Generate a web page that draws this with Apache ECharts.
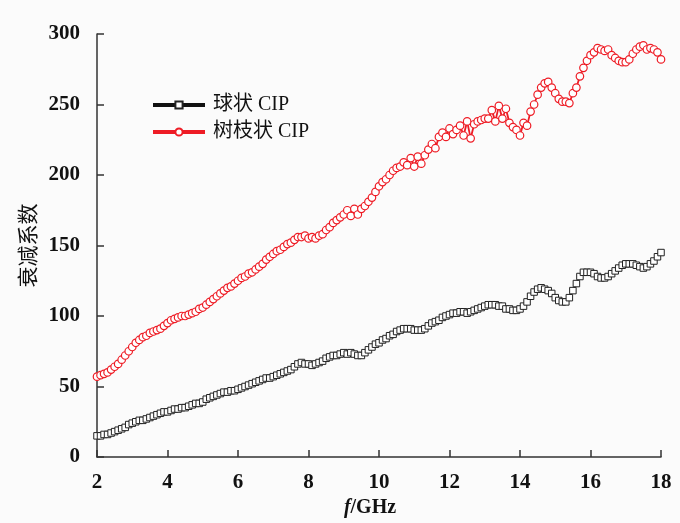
<!DOCTYPE html>
<html>
<head>
<meta charset="utf-8">
<script src="https://cdn.jsdelivr.net/npm/echarts@6/dist/echarts.min.js"></script>
<style>
  html, body { margin: 0; padding: 0; background: #fbfbfb; }
  #chart { width: 680px; height: 523px; }
</style>
</head>
<body>
<div id="chart"></div>
<script>
// 频率采样: 2 ~ 18 GHz, 步长 0.1
const freqStart = 2
const freqStep = 0.1

const xTicks = [2, 4, 6, 8, 10, 12, 14, 16, 18]
const yTicks = [0, 50, 100, 150, 200, 250, 300]

const seriesNames = ['球状 CIP', '树枝状 CIP']

// 球状 CIP 衰减系数
const sphereValues = [
  15, 15, 16, 16, 17, 18, 19, 20, 21, 23,
  24, 25, 26, 26, 27, 28, 29, 30, 31, 32,
  32, 33, 34, 34, 35, 35, 36, 37, 38, 38,
  39, 41, 42, 43, 44, 45, 46, 46, 47, 47,
  48, 49, 50, 51, 52, 53, 54, 55, 56, 56,
  57, 58, 59, 60, 61, 62, 64, 66, 67, 66,
  66, 65, 66, 67, 68, 70, 71, 72, 72, 73,
  74, 73, 74, 73, 72, 72, 74, 76, 78, 80,
  81, 83, 84, 86, 87, 89, 90, 91, 91, 91,
  90, 90, 90, 91, 93, 95, 96, 97, 99, 100,
  101, 102, 102, 103, 103, 102, 103, 104, 105, 106,
  107, 108, 108, 108, 107, 107, 105, 105, 104, 104,
  105, 107, 110, 114, 117, 119, 120, 119, 118, 116,
  113, 111, 110, 110, 113, 118, 123, 128, 131, 131,
  131, 130, 128, 127, 127, 128, 130, 132, 134, 136,
  137, 137, 137, 136, 135, 134, 135, 137, 139, 142,
  145
]

// 树枝状 CIP 衰减系数
const dendriteValues = [
  57, 58, 59, 60, 62, 64, 66, 69, 72, 75,
  78, 81, 83, 85, 86, 88, 89, 90, 91, 93,
  95, 97, 98, 99, 100, 100, 101, 102, 103, 105,
  106, 108, 110, 112, 114, 116, 118, 120, 121, 123,
  125, 127, 128, 130, 131, 133, 135, 137, 140, 142,
  144, 146, 147, 149, 151, 152, 154, 156, 156, 157,
  155, 156, 155, 157, 158, 161, 163, 166, 168, 170,
  172, 175, 171, 176, 172, 176, 178, 181, 184, 188,
  192, 195, 197, 200, 203, 205, 206, 209, 207, 212,
  206, 213, 208, 214, 218, 222, 219, 227, 230, 227,
  233, 229, 232, 235, 228, 238, 226, 236, 238, 239,
  240, 240, 246, 238, 249, 240, 247, 237, 234, 232,
  228, 237, 235, 245, 250, 257, 262, 265, 266, 262,
  258, 254, 252, 252, 251, 258, 262, 270, 276, 281,
  285, 287, 290, 289, 288, 289, 285, 283, 281, 280,
  280, 282, 286, 289, 291, 292, 289, 290, 289, 287,
  282
]

function toPairs(values) {
  return values.map((v, i) => [+(freqStart + i * freqStep).toFixed(1), v])
}

const chart = echarts.init(document.getElementById('chart'))

const labelFont = {
  fontFamily: 'Liberation Serif',
  fontWeight: 'bold',
  fontSize: 21,
  color: '#111'
}

chart.setOption({
  backgroundColor: '#fbfbfb',
  animation: false,
  grid: {
    left: 97,
    right: 19,
    top: 34,
    bottom: 66,
    outerBoundsMode: 'none'
  },
  legend: {
    orient: 'vertical',
    left: 151,
    top: 95,
    padding: 0,
    itemWidth: 52,
    itemHeight: 9,
    itemGap: 7,
    data: seriesNames,
    lineStyle: { width: 4 },
    textStyle: {
      fontFamily: 'Liberation Serif, Noto Sans CJK SC',
      fontSize: 20,
      color: '#111',
      padding: [0, 0, 0, 3]
    }
  },
  xAxis: {
    type: 'value',
    min: xTicks[0],
    max: xTicks[xTicks.length - 1],
    interval: 2,
    name: '{i|f}{n|/GHz}',
    nameLocation: 'middle',
    nameGap: 41,
    nameTextStyle: {
      padding: [0, 18, 0, 0],
      rich: {
        i: { fontFamily: 'Liberation Serif', fontStyle: 'italic', fontWeight: 'bold', fontSize: 20, color: '#111' },
        n: { fontFamily: 'Liberation Serif', fontWeight: 'bold', fontSize: 20, color: '#111' }
      }
    },
    axisLine: { lineStyle: { color: '#333', width: 1.5 } },
    axisTick: { inside: true, length: 7, lineStyle: { color: '#333', width: 1.5 } },
    axisLabel: Object.assign({ margin: 15 }, labelFont),
    splitLine: { show: false }
  },
  yAxis: {
    type: 'value',
    min: yTicks[0],
    max: yTicks[yTicks.length - 1],
    interval: 50,
    name: '衰减系数',
    nameLocation: 'middle',
    nameGap: 55,
    nameTextStyle: {
      fontFamily: 'Noto Sans CJK SC',
      fontSize: 21,
      color: '#111'
    },
    axisLine: { show: true, lineStyle: { color: '#333', width: 1.5 } },
    axisTick: { show: true, inside: true, length: 7, lineStyle: { color: '#333', width: 1.5 } },
    axisLabel: Object.assign({ margin: 17 }, labelFont),
    splitLine: { show: false }
  },
  series: [
    {
      name: seriesNames[0],
      type: 'line',
      data: toPairs(sphereValues),
      symbol: 'rect',
      symbolSize: 6.5,
      showAllSymbol: true,
      lineStyle: { color: '#111', width: 1.5 },
      itemStyle: { color: '#fff', borderColor: '#222', borderWidth: 1 },
      z: 2
    },
    {
      name: seriesNames[1],
      type: 'line',
      data: toPairs(dendriteValues),
      symbol: 'circle',
      symbolSize: 7.5,
      showAllSymbol: true,
      lineStyle: { color: '#ee1c25', width: 1.8 },
      itemStyle: { color: '#fff', borderColor: '#ee1c25', borderWidth: 1.2 },
      z: 3
    }
  ]
})
</script>
</body>
</html>
